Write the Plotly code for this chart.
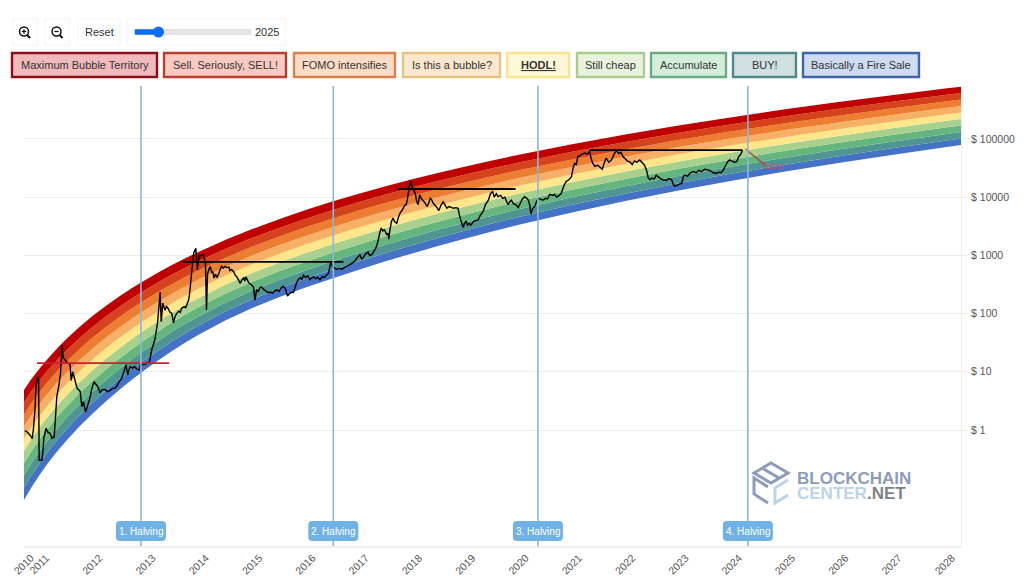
import numpy as np
import plotly.graph_objects as go

# band edges as log10(price), bottom edge first
edge_years = [2010.715, 2010.85, 2011.0, 2011.125, 2011.25, 2011.375, 2011.5, 2011.75, 2012, 2012.25, 2012.5, 2012.75,
              2013, 2013.25, 2013.5, 2013.75, 2014, 2014.5, 2015, 2015.5, 2016, 2016.5, 2017, 2017.5,
              2018, 2018.5, 2019, 2019.5, 2020, 2021, 2022, 2023, 2024, 2025, 2026, 2027, 2028, 2028.3]
edge_0 = [-1.204, -.991, -.781, -.620, -.469, -.327, -.192, .055, .281, .491, .686, .871, 1.045, 1.208, 1.363, 1.507, 1.642, 1.885, 2.096, 2.279, 2.449, 2.604, 2.753, 2.897, 3.034, 3.166, 3.291, 3.411, 3.527, 3.738, 3.933, 4.116, 4.284, 4.440, 4.587, 4.726, 4.859, 4.897]
edge_1 = [-.994, -.784, -.578, -.419, -.271, -.131, .002, .245, .467, .673, .865, 1.046, 1.216, 1.375, 1.527, 1.668, 1.800, 2.039, 2.247, 2.428, 2.597, 2.751, 2.898, 3.040, 3.176, 3.305, 3.428, 3.546, 3.661, 3.868, 4.060, 4.240, 4.405, 4.559, 4.703, 4.840, 4.971, 5.008]
edge_2 = [-.783, -.577, -.374, -.218, -.072, .065, .196, .435, .653, .856, 1.043, 1.221, 1.387, 1.543, 1.691, 1.828, 1.958, 2.192, 2.397, 2.577, 2.744, 2.897, 3.043, 3.184, 3.317, 3.445, 3.566, 3.682, 3.794, 3.998, 4.187, 4.364, 4.526, 4.677, 4.820, 4.954, 5.083, 5.120]
edge_3 = [-.573, -.370, -.171, -.018, .126, .261, .390, .625, .840, 1.038, 1.222, 1.395, 1.558, 1.710, 1.855, 1.989, 2.116, 2.346, 2.548, 2.726, 2.892, 3.044, 3.189, 3.327, 3.459, 3.584, 3.703, 3.817, 3.928, 4.128, 4.314, 4.488, 4.648, 4.796, 4.936, 5.068, 5.195, 5.231]
edge_4 = [-.363, -.163, .033, .183, .324, .457, .584, .815, 1.026, 1.220, 1.401, 1.570, 1.729, 1.878, 2.019, 2.150, 2.274, 2.499, 2.699, 2.875, 3.040, 3.191, 3.334, 3.470, 3.600, 3.724, 3.841, 3.953, 4.061, 4.258, 4.441, 4.612, 4.769, 4.915, 5.052, 5.182, 5.307, 5.342]
edge_5 = [-.152, .044, .236, .384, .523, .654, .778, 1.005, 1.212, 1.403, 1.580, 1.745, 1.900, 2.045, 2.183, 2.310, 2.432, 2.653, 2.850, 3.024, 3.188, 3.337, 3.479, 3.614, 3.742, 3.863, 3.978, 4.088, 4.195, 4.389, 4.568, 4.736, 4.890, 5.034, 5.169, 5.297, 5.419, 5.454]
edge_6 = [.058, .250, .439, .585, .721, .850, .971, 1.194, 1.398, 1.585, 1.758, 1.920, 2.070, 2.212, 2.346, 2.471, 2.590, 2.806, 3.000, 3.173, 3.335, 3.484, 3.624, 3.757, 3.883, 4.003, 4.115, 4.224, 4.328, 4.519, 4.694, 4.860, 5.011, 5.152, 5.285, 5.411, 5.530, 5.565]
edge_7 = [.268, .457, .643, .786, .919, 1.046, 1.165, 1.384, 1.584, 1.767, 1.937, 2.095, 2.241, 2.380, 2.510, 2.632, 2.748, 2.960, 3.151, 3.322, 3.483, 3.631, 3.770, 3.900, 4.025, 4.142, 4.253, 4.359, 4.462, 4.649, 4.821, 4.984, 5.132, 5.271, 5.401, 5.525, 5.642, 5.676]
edge_8 = [.478, .664, .846, .986, 1.117, 1.242, 1.359, 1.574, 1.771, 1.950, 2.115, 2.269, 2.412, 2.547, 2.674, 2.792, 2.906, 3.113, 3.301, 3.471, 3.630, 3.777, 3.915, 4.044, 4.166, 4.282, 4.390, 4.495, 4.595, 4.779, 4.948, 5.108, 5.254, 5.390, 5.517, 5.639, 5.754, 5.788]
edge_9 = [.689, .871, 1.049, 1.187, 1.316, 1.438, 1.553, 1.764, 1.957, 2.132, 2.294, 2.444, 2.583, 2.715, 2.838, 2.953, 3.064, 3.267, 3.452, 3.620, 3.778, 3.924, 4.060, 4.187, 4.308, 4.421, 4.528, 4.630, 4.729, 4.909, 5.075, 5.232, 5.375, 5.509, 5.634, 5.753, 5.866, 5.899]

band_colors = ["#4472c4", "#4f9693", "#64b67e", "#a9d18e", "#fde78a", "#f7b166", "#ed7d31", "#d6421b", "#c00000"]

# price, also log10
price_years = [2010.73, 2010.77, 2010.79, 2010.83, 2010.87, 2010.89, 2010.92, 2010.94, 2010.97, 2010.99,
               2011.00, 2011.05, 2011.07, 2011.09, 2011.13, 2011.17, 2011.20, 2011.24, 2011.28, 2011.30,
               2011.33, 2011.37, 2011.40, 2011.43, 2011.45, 2011.52, 2011.58, 2011.60, 2011.63, 2011.67,
               2011.71, 2011.77, 2011.80, 2011.83, 2011.87, 2011.91, 2011.95, 2011.99, 2012.03, 2012.06,
               2012.09, 2012.12, 2012.14, 2012.18, 2012.23, 2012.28, 2012.33, 2012.37, 2012.42, 2012.46,
               2012.50, 2012.53, 2012.56, 2012.60, 2012.63, 2012.66, 2012.69, 2012.71, 2012.75, 2012.79,
               2012.83, 2012.88, 2012.90, 2013.00, 2013.07, 2013.11, 2013.17, 2013.22, 2013.27, 2013.29,
               2013.32, 2013.36, 2013.39, 2013.42, 2013.45, 2013.49, 2013.52, 2013.55, 2013.58, 2013.62,
               2013.65, 2013.67, 2013.72, 2013.75, 2013.77, 2013.80, 2013.82, 2013.86, 2013.90, 2013.94,
               2013.97, 2014.00, 2014.08, 2014.12, 2014.14, 2014.16, 2014.19, 2014.21, 2014.24, 2014.26,
               2014.28, 2014.31, 2014.33, 2014.36, 2014.39, 2014.42, 2014.45, 2014.49, 2014.52, 2014.56,
               2014.58, 2014.61, 2014.65, 2014.68, 2014.71, 2014.74, 2014.77, 2014.80, 2014.84, 2014.86,
               2014.88, 2014.91, 2014.94, 2014.98, 2015.02, 2015.05, 2015.08, 2015.11, 2015.14, 2015.17,
               2015.21, 2015.25, 2015.30, 2015.34, 2015.38, 2015.42, 2015.46, 2015.50, 2015.54, 2015.58,
               2015.62, 2015.66, 2015.70, 2015.74, 2015.77, 2015.80, 2015.83, 2015.86, 2015.90, 2015.93,
               2015.96, 2016.00, 2016.04, 2016.08, 2016.11, 2016.15, 2016.19, 2016.23, 2016.27, 2016.31,
               2016.35, 2016.39, 2016.43, 2016.47, 2016.51, 2016.55, 2016.58, 2016.63, 2016.68, 2016.72,
               2016.77, 2016.83, 2016.88, 2016.92, 2016.96, 2017.02, 2017.05, 2017.08, 2017.12, 2017.17,
               2017.20, 2017.24, 2017.27, 2017.30, 2017.33, 2017.36, 2017.39, 2017.42, 2017.45, 2017.48,
               2017.52, 2017.55, 2017.56, 2017.58, 2017.61, 2017.64, 2017.67, 2017.71, 2017.74, 2017.78,
               2017.81, 2017.83, 2017.86, 2017.89, 2017.92, 2017.95, 2017.97, 2018.00, 2018.03, 2018.06,
               2018.08, 2018.11, 2018.14, 2018.17, 2018.20, 2018.24, 2018.28, 2018.31, 2018.34, 2018.37,
               2018.39, 2018.42, 2018.46, 2018.50, 2018.54, 2018.58, 2018.61, 2018.65, 2018.69, 2018.74,
               2018.78, 2018.82, 2018.86, 2018.88, 2018.91, 2018.93, 2018.96, 2018.98, 2019.01, 2019.04,
               2019.07, 2019.10, 2019.15, 2019.19, 2019.24, 2019.28, 2019.33, 2019.38, 2019.43, 2019.47,
               2019.51, 2019.54, 2019.58, 2019.61, 2019.66, 2019.70, 2019.74, 2019.77, 2019.80, 2019.83,
               2019.86, 2019.90, 2019.95, 2019.99, 2020.03, 2020.07, 2020.11, 2020.15, 2020.18, 2020.21,
               2020.23, 2020.26, 2020.30, 2020.34, 2020.38, 2020.42, 2020.46, 2020.50, 2020.54, 2020.58,
               2020.64, 2020.67, 2020.71, 2020.76, 2020.80, 2020.85, 2020.89, 2020.94, 2020.99, 2021.02,
               2021.05, 2021.08, 2021.11, 2021.14, 2021.19, 2021.24, 2021.28, 2021.33, 2021.36, 2021.39,
               2021.43, 2021.48, 2021.52, 2021.57, 2021.60, 2021.64, 2021.69, 2021.74, 2021.79, 2021.83,
               2021.88, 2021.92, 2021.96, 2022.00, 2022.04, 2022.08, 2022.13, 2022.17, 2022.22, 2022.27,
               2022.32, 2022.36, 2022.40, 2022.43, 2022.46, 2022.50, 2022.54, 2022.58, 2022.63, 2022.67,
               2022.71, 2022.77, 2022.82, 2022.87, 2022.90, 2022.93, 2022.99, 2023.03, 2023.06, 2023.09,
               2023.12, 2023.17, 2023.22, 2023.28, 2023.33, 2023.38, 2023.43, 2023.49, 2023.55, 2023.60,
               2023.65, 2023.71, 2023.76, 2023.80, 2023.84, 2023.88, 2023.92, 2023.96, 2024.00, 2024.05,
               2024.09, 2024.13, 2024.17, 2024.20]
price_log = [-.01, -.03, -.05, -.09, -.15, 0, .34, .74, .91, .86,
             -.52, -.52, -.37, -.12, .03, -.05, -.05, -.14, -.12, .12,
             .57, .77, .97, 1.46, 1.24, 1.17, 1.12, .85, 1.00, .86,
             .72, .66, .40, .49, .31, .42, .54, .72, .83, .79,
             .76, .70, .64, .69, .70, .66, .68, .71, .72, .76,
             .83, .86, .92, 1.03, 1.12, .95, 1.05, 1.09, 1.06, 1.09,
             1.05, 1.03, 1.12, 1.13, 1.17, 1.37, 1.55, 1.83, 2.37, 1.86,
             2.18, 2.06, 2.12, 2.09, 2.03, 2.00, 1.84, 1.95, 2.00, 2.04,
             2.02, 2.09, 2.12, 2.10, 2.15, 2.22, 2.32, 2.69, 3.04, 3.12,
             2.75, 2.99, 3.01, 2.86, 2.06, 2.69, 2.77, 2.81, 2.70, 2.72,
             2.61, 2.68, 2.62, 2.66, 2.74, 2.82, 2.78, 2.81, 2.79, 2.80,
             2.74, 2.76, 2.72, 2.66, 2.63, 2.58, 2.52, 2.57, 2.62, 2.56,
             2.63, 2.57, 2.52, 2.50, 2.46, 2.23, 2.41, 2.38, 2.44, 2.46,
             2.42, 2.39, 2.36, 2.37, 2.35, 2.39, 2.41, 2.38, 2.44, 2.47,
             2.43, 2.30, 2.34, 2.37, 2.36, 2.44, 2.53, 2.58, 2.62, 2.58,
             2.66, 2.62, 2.65, 2.58, 2.61, 2.63, 2.60, 2.62, 2.58, 2.63,
             2.62, 2.66, 2.69, 2.87, 2.81, 2.78, 2.76, 2.78, 2.76, 2.79,
             2.81, 2.84, 2.87, 2.90, 2.95, 3.01, 2.94, 2.96, 3.02, 3.06,
             3.00, 3.01, 3.05, 3.10, 3.15, 3.25, 3.38, 3.47, 3.42, 3.44,
             3.36, 3.38, 3.28, 3.42, 3.58, 3.64, 3.58, 3.55, 3.65, 3.74,
             3.77, 3.81, 3.86, 3.87, 4.02, 4.20, 4.27, 4.18, 4.12, 4.06,
             3.94, 3.87, 4.04, 3.98, 3.95, 3.90, 3.84, 3.90, 3.98, 3.95,
             3.90, 3.87, 3.83, 3.77, 3.86, 3.92, 3.88, 3.81, 3.84, 3.82,
             3.81, 3.82, 3.81, 3.72, 3.61, 3.55, 3.48, 3.55, 3.58, 3.52,
             3.55, 3.52, 3.58, 3.60, 3.61, 3.69, 3.75, 3.88, 3.95, 4.06,
             4.10, 4.00, 4.06, 4.01, 4.03, 3.98, 4.00, 3.93, 3.87, 3.92,
             3.95, 3.89, 3.87, 3.82, 3.90, 3.97, 4.01, 3.98, 3.95, 3.85,
             3.71, 3.80, 3.84, 3.94, 3.98, 3.96, 3.95, 3.98, 3.97, 4.05,
             4.03, 4.05, 4.00, 4.03, 4.07, 4.20, 4.27, 4.30, 4.35, 4.50,
             4.58, 4.56, 4.70, 4.71, 4.74, 4.76, 4.74, 4.78, 4.66, 4.58,
             4.53, 4.55, 4.52, 4.48, 4.58, 4.67, 4.60, 4.64, 4.74, 4.80,
             4.75, 4.77, 4.69, 4.66, 4.62, 4.61, 4.56, 4.62, 4.60, 4.64,
             4.59, 4.55, 4.46, 4.33, 4.30, 4.33, 4.31, 4.38, 4.34, 4.31,
             4.30, 4.29, 4.32, 4.30, 4.22, 4.19, 4.21, 4.23, 4.24, 4.36,
             4.38, 4.36, 4.42, 4.44, 4.42, 4.46, 4.44, 4.48, 4.47, 4.45,
             4.42, 4.41, 4.43, 4.42, 4.47, 4.54, 4.61, 4.64, 4.62, 4.60,
             4.61, 4.70, 4.74, 4.81]
assert len(price_years) == len(price_log)

halving_years = [2012.91, 2016.52, 2020.36, 2024.30]
halving_names = ["1. Halving", "2. Halving", "3. Halving", "4. Halving"]

# horizontal peak markers
level_starts = [2010.96, 2013.70, 2017.74, 2021.33]
level_ends = [2013.44, 2016.71, 2019.94, 2024.20]
level_values = [1.15, 2.89, 4.14, 4.81]
level_colors = ["#c8202c", "black", "black", "black"]

pointer_years = [2024.25, 2024.63]
pointer_log = [4.83, 4.55]

x_tick_vals = [2010.715, 2011, 2012, 2013, 2014, 2015, 2016, 2017, 2018, 2019, 2020, 2021, 2022, 2023, 2024, 2025, 2026, 2027, 2028]
x_tick_text = ["2010", "2011", "2012", "2013", "2014", "2015", "2016", "2017", "2018", "2019", "2020", "2021", "2022", "2023", "2024", "2025", "2026", "2027", "2028"]
y_tick_vals = [1, 10, 100, 1000, 10000, 100000]
y_tick_text = ["$ 1", "$ 10", "$ 100", "$ 1000", "$ 10000", "$ 100000"]

legend_names = ["Maximum Bubble Territory", "Sell. Seriously, SELL!", "FOMO intensifies", "Is this a bubble?",
                "<b><u>HODL!</u></b>", "Still cheap", "Accumulate", "BUY!", "Basically a Fire Sale"]
legend_left = [11, 163, 293, 402, 506, 576, 650, 732, 802]
legend_right = [158, 287, 396, 501, 570, 645, 727, 797, 920]
legend_fill = ["#f0b9bb", "#f9cac1", "#fcdcc7", "#fde8cf", "#fff8d8", "#e8f2dc", "#d3efdc", "#d1e0e1", "#cddcf0"]
legend_line = ["#8b0f16", "#b8402f", "#d9824a", "#e8c27e", "#f9e58f", "#a9cd8d", "#6aac82", "#4f8a8b", "#3f64a8"]

FONT = "Liberation Sans"
L, R, T, B = 24, 961, 86, 546


def px(x):
    return (x - L) / (R - L)


def py(y):
    return (B - y) / (B - T)


fig = go.Figure()

edges = [edge_0, edge_1, edge_2, edge_3, edge_4, edge_5, edge_6, edge_7, edge_8, edge_9]
# straight segments with simplify off, the spline fills drifted off the edge values
edge_line = dict(width=0, shape="linear", simplify=False)
fig.add_trace(go.Scatter(x=edge_years, y=10 ** np.array(edges[0]), mode="lines", line=edge_line, hoverinfo="skip"))
for i, color in enumerate(band_colors):
    fig.add_trace(go.Scatter(x=edge_years, y=10 ** np.array(edges[i + 1]), mode="lines", line=edge_line,
                             fill="tonexty", fillcolor=color, hoverinfo="skip"))

fig.add_trace(go.Scatter(x=price_years, y=10 ** np.array(price_log), mode="lines",
                         line=dict(color="black", width=1.4, simplify=False)))

for start, end, value, color in zip(level_starts, level_ends, level_values, level_colors):
    fig.add_trace(go.Scatter(x=[start, end], y=[10 ** value, 10 ** value], mode="lines",
                             line=dict(color=color, width=1.8)))

fig.add_trace(go.Scatter(x=pointer_years, y=10 ** np.array(pointer_log), mode="lines",
                         line=dict(color="#b8303a", width=1.2)))

shapes = []
annotations = []


def text(x, y, s, size=11, color="#333333", xanchor="center"):
    annotations.append(dict(xref="paper", yref="paper", x=px(x), y=py(y), text=s, showarrow=False,
                            xanchor=xanchor, yanchor="middle",
                            font=dict(family=FONT, size=size, color=color)))


def box(x0, y0, x1, y1, fill, line, width):
    shapes.append(dict(type="rect", xref="paper", yref="paper", x0=px(x0), x1=px(x1), y0=py(y0), y1=py(y1),
                       fillcolor=fill, line=dict(color=line, width=width)))


def seg(x0, y0, x1, y1, color="#111111", width=1.6):
    shapes.append(dict(type="line", xref="paper", yref="paper", x0=px(x0), x1=px(x1), y0=py(y0), y1=py(y1),
                       line=dict(color=color, width=width)))


def poly(points, color, width=3, closed=False):
    path = "M " + " L ".join(f"{px(a):.5f},{py(b):.5f}" for a, b in points) + (" Z" if closed else "")
    shapes.append(dict(type="path", xref="paper", yref="paper", path=path, line=dict(color=color, width=width)))


# halving lines and their tags
for year, name in zip(halving_years, halving_names):
    shapes.append(dict(type="line", xref="x", yref="paper", x0=year, x1=year, y0=0, y1=1,
                       line=dict(color="#8ab8d6", width=1.6)))
    shapes.append(dict(type="path", xref="x", yref="paper", xsizemode="pixel", ysizemode="pixel",
                       xanchor=year, yanchor=py(531), fillcolor="#70b2e6", line=dict(width=0),
                       path="M -21,-10 L 21,-10 Q 25,-10 25,-6 L 25,6 Q 25,10 21,10 L -21,10 "
                            "Q -25,10 -25,6 L -25,-6 Q -25,-10 -21,-10 Z"))
    annotations.append(dict(xref="x", yref="paper", x=year, y=py(531), text=name, showarrow=False,
                            xanchor="center", yanchor="middle",
                            font=dict(family=FONT, size=10, color="white")))

# colour buttons
for name, left, right, fill, line in zip(legend_names, legend_left, legend_right, legend_fill, legend_line):
    box(left + 1, 53, right - 1, 77, fill, line, 2.4)
    text((left + right) / 2, 65, name)

# toolbar
for x0, x1 in [(13, 37), (45, 69), (78, 120), (127, 285)]:
    box(x0, 19, x1, 45, "white", "#f3f3f3", 1)
for cx, plus in [(24, True), (56.5, False)]:
    shapes.append(dict(type="circle", xref="paper", yref="paper", x0=px(cx - 4.5), x1=px(cx + 4.5),
                       y0=py(27), y1=py(36), line=dict(color="#111111", width=1.5)))
    seg(cx + 3.2, 35, cx + 6, 38, width=2)
    seg(cx - 2.2, 31.5, cx + 2.2, 31.5, width=1.2)
    if plus:
        seg(cx, 29.3, cx, 33.7, width=1.2)
text(99, 32.5, "Reset")
box(135, 29.5, 251, 34.5, "#e4e4e4", "#d0d0d0", 0.5)
box(135, 29.5, 158, 34.5, "#0d6efd", "#0d6efd", 0.5)
shapes.append(dict(type="circle", xref="paper", yref="paper", x0=px(153), x1=px(164), y0=py(26.5), y1=py(37.5),
                   fillcolor="#0d6efd", line=dict(width=0)))
text(267, 32.5, "2025")

text(773, 166, "30000", size=7.5, color="#d0486a")

# watermark
poly([(754, 473), (771, 463), (788, 473), (771, 483)], "#8d9cbb", closed=True)
seg(762, 468, 779, 478, "#8d9cbb", 3)
poly([(768, 487), (754, 478), (754, 494), (768, 503)], "#8d9cbb")
poly([(788, 480), (775, 488), (775, 503), (788, 495)], "#bcd3e8")
text(795, 478.5, "<b>BLOCKCHAIN</b>", size=17, color="#8d9cbb", xanchor="left")
text(795, 493, '<b><span style="color:#bcd3e8">CENTER</span>.NET</b>', size=17, color="#7c8288", xanchor="left")

fig.update_layout(
    width=1024, height=583, autosize=False, showlegend=False,
    margin=dict(l=L, r=1024 - R, t=T, b=583 - B),
    paper_bgcolor="white", plot_bgcolor="white",
    font=dict(family=FONT, color="#555555"),
    shapes=shapes, annotations=annotations, hovermode=False,
    xaxis=dict(range=[2010.715, 2028.3], tickvals=x_tick_vals, ticktext=x_tick_text, tickangle=-45,
               automargin=False,
               showgrid=False, zeroline=False, showline=True, linecolor="#eeeeee", linewidth=1.5,
               ticks="", tickfont=dict(size=10.5, color="#555555"), ticklabelshift=7),
    yaxis=dict(type="log", range=[-1.993, 5.91], side="right", tickvals=y_tick_vals, ticktext=y_tick_text,
               automargin=False,
               showgrid=True, gridcolor="#ececec", gridwidth=1, zeroline=False, showline=True,
               linecolor="#eeeeee", ticks="outside", ticklen=7, tickcolor="#eeeeee",
               tickfont=dict(size=10.5, color="#555555")),
)

fig.write_html("out.html", config=dict(displayModeBar=False),
               post_script="document.body.style.margin='0';")
